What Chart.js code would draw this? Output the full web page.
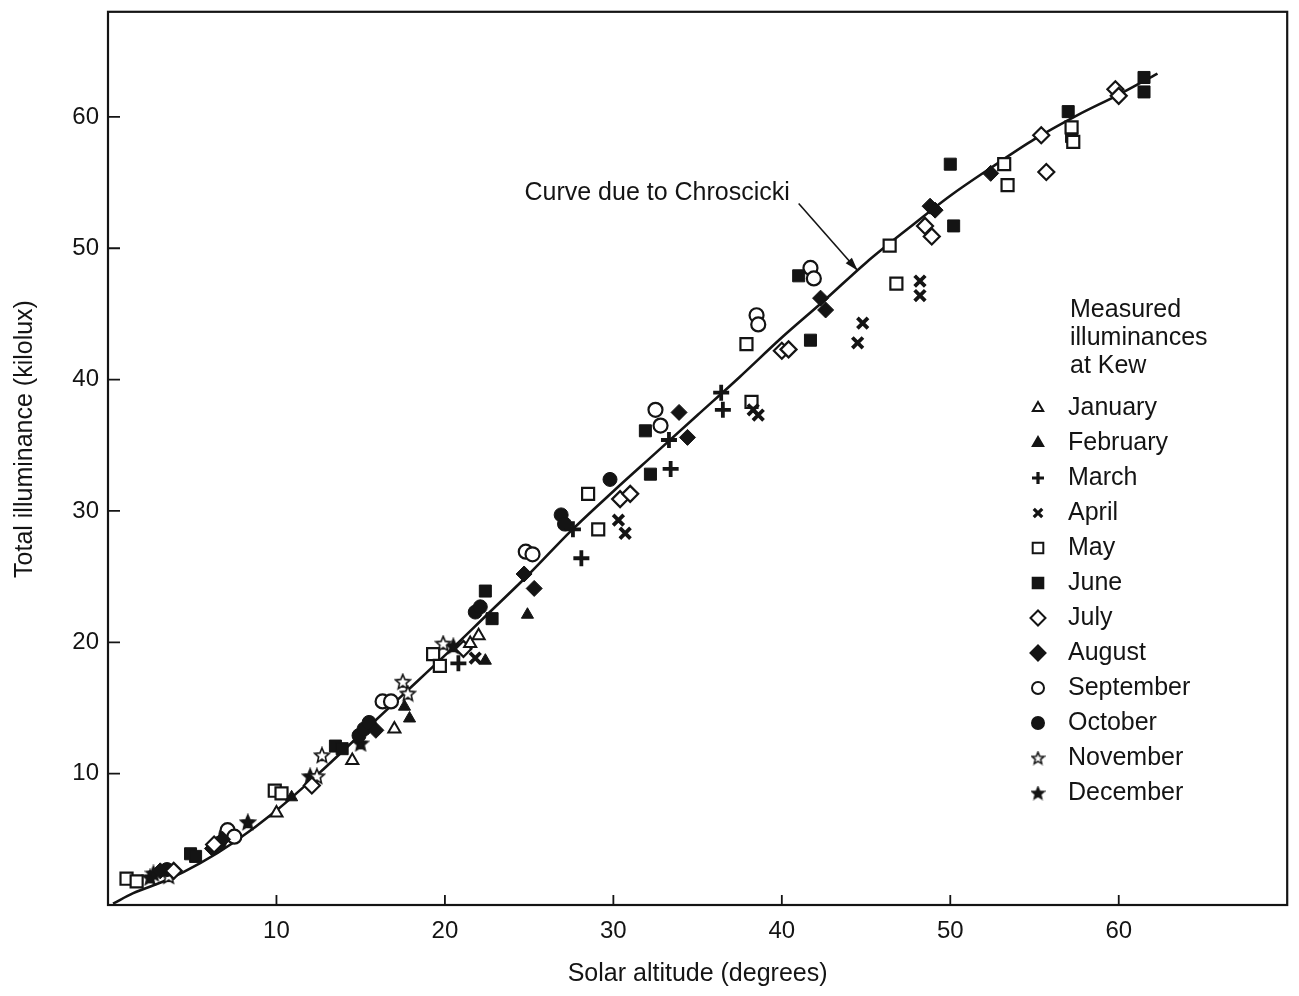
<!DOCTYPE html>
<html>
<head>
<meta charset="utf-8">
<script src="https://cdn.jsdelivr.net/npm/chart.js@4.4.0/dist/chart.umd.min.js"></script>
<style>
  html, body { margin: 0; padding: 0; background: #fff; }
  #wrap { width: 1299px; height: 996px; }
</style>
</head>
<body>
<div id="wrap"><canvas id="chart" width="1299" height="996"></canvas></div>
<script>
// measured illuminances at Kew: [solar altitude (deg), total illuminance (klx)]
const january = [[10.0, 7.0], [14.5, 11.0], [17.0, 13.4], [21.5, 19.9], [22.0, 20.5]];
const february = [[10.9, 8.2], [17.6, 15.1], [17.9, 14.2], [22.4, 18.6], [24.9, 22.1]];
const march = [[20.8, 18.4], [27.6, 28.6], [28.1, 26.4], [33.3, 35.4], [33.4, 33.2], [36.4, 39.0], [36.5, 37.7]];
const april = [[21.8, 18.8], [30.3, 29.3], [30.7, 28.3], [38.3, 37.7], [38.6, 37.3], [44.5, 42.8], [44.8, 44.3], [48.2, 47.5], [48.2, 46.4]];
const may = [[1.1, 2.0], [1.7, 1.8], [9.9, 8.7], [10.3, 8.5], [19.3, 19.1], [19.7, 18.2], [28.5, 31.3], [29.1, 28.6],
  [37.9, 42.7], [38.2, 38.3], [46.4, 50.2], [46.8, 47.3], [53.2, 56.4], [53.4, 54.8], [57.2, 59.2], [57.3, 58.1]];
const june = [[4.9, 3.9], [5.2, 3.7], [13.5, 12.1], [13.9, 11.9], [22.4, 23.9], [22.8, 21.8], [31.9, 36.1], [32.2, 32.8],
  [41.0, 47.9], [41.7, 43.0], [50.0, 56.4], [50.2, 51.7], [57.0, 60.4], [57.2, 58.5], [61.5, 63.0], [61.5, 61.9]];
const july = [[3.9, 2.6], [6.3, 4.6], [12.1, 9.1], [21.1, 19.5], [30.4, 30.9], [31.0, 31.3], [40.0, 42.2], [40.4, 42.3],
  [48.5, 51.7], [48.9, 50.9], [55.4, 58.6], [55.7, 55.8], [59.8, 62.1], [60.0, 61.6]];
const august = [[3.1, 2.6], [6.2, 4.3], [6.8, 5.0], [15.9, 13.3], [24.7, 25.2], [25.3, 24.1], [33.9, 37.5], [34.4, 35.6],
  [42.3, 46.2], [42.6, 45.3], [48.8, 53.2], [49.1, 52.9], [52.4, 55.7]];
const september = [[7.1, 5.7], [7.5, 5.2], [16.3, 15.5], [16.8, 15.5], [24.8, 26.9], [25.2, 26.7], [32.5, 37.7], [32.8, 36.5],
  [38.5, 44.9], [38.6, 44.2], [41.7, 48.5], [41.9, 47.7]];
const october = [[3.5, 2.7], [6.6, 4.7], [7.0, 5.4], [14.9, 12.9], [15.2, 13.4], [15.5, 13.9], [21.8, 22.3], [22.1, 22.7],
  [26.9, 29.7], [27.1, 29.0], [29.8, 32.4]];
const november = [[3.6, 2.2], [12.4, 9.8], [12.7, 11.4], [17.5, 17.0], [17.8, 16.1], [19.9, 19.9]];
const december = [[2.5, 2.1], [2.7, 2.4], [8.3, 6.3], [12.0, 9.8], [15.0, 12.3], [20.5, 19.7]];

// curve due to Chroscicki
const curveAlt = [0.3, 1.5, 3.5, 5.5, 7.5, 10, 12.5, 15, 17.5, 20, 22.5, 25, 27.5, 30, 32.5, 35, 37.5, 40, 42.5, 45, 47.5, 50, 52.5, 55, 57.5, 60, 62.3];
const curveLux = [0.1, 0.9, 1.9, 3.2, 4.8, 7.2, 10.0, 13.0, 16.0, 19.0, 22.1, 25.2, 28.5, 31.5, 34.4, 37.3, 40.2, 43.2, 46.0, 48.9, 51.5, 54.0, 56.2, 58.3, 60.1, 61.7, 63.3];

const xTicks = [10, 20, 30, 40, 50, 60];
const yTicks = [10, 20, 30, 40, 50, 60];

const INK = '#141414';
const FONT = '"Liberation Sans", Arial, Helvetica, sans-serif';

function starImage(size, filled) {
  const c = document.createElement('canvas');
  c.width = c.height = size;
  const g = c.getContext('2d');
  const cx = size / 2, cy = size / 2 + 0.5;
  const ro = size / 2 - 1.2, ri = ro * 0.45;
  g.beginPath();
  for (let i = 0; i < 10; i++) {
    const r = i % 2 ? ri : ro;
    const a = -Math.PI / 2 + i * Math.PI / 5;
    g.lineTo(cx + r * Math.cos(a), cy + r * Math.sin(a));
  }
  g.closePath();
  g.fillStyle = filled ? INK : '#fff';
  g.fill();
  g.lineWidth = 1.6;
  g.strokeStyle = INK;
  g.stroke();
  return c;
}

const openStar = starImage(18, false);
const fullStar = starImage(18, true);
const openStarSmall = starImage(15, false);
const fullStarSmall = starImage(15, true);

// [label, data, pointStyle, radius, filled, borderWidth, legend style]
const months = [
  ['January', january, 'triangle', 7, false, 2, 'triangle'],
  ['February', february, 'triangle', 7, true, 1, 'triangle'],
  ['March', march, 'cross', 8, true, 3.8, 'cross'],
  ['April', april, 'crossRot', 7.5, true, 3.8, 'crossRot'],
  ['May', may, 'rect', 8.5, false, 2.2, 'rect'],
  ['June', june, 'rect', 8.5, true, 1, 'rect'],
  ['July', july, 'rectRot', 8, false, 2.2, 'rectRot'],
  ['August', august, 'rectRot', 8, true, 1, 'rectRot'],
  ['September', september, 'circle', 7, false, 2.2, 'circle'],
  ['October', october, 'circle', 7, true, 1, 'circle'],
  ['November', november, openStar, 8, false, 0, openStarSmall],
  ['December', december, fullStar, 8, true, 0, fullStarSmall]
];

const datasets = months.map(m => ({
  label: m[0],
  data: m[1].map(p => ({x: p[0], y: p[1]})),
  pointStyle: m[2],
  pointRadius: m[3],
  pointBackgroundColor: m[4] ? INK : '#fff',
  pointBorderColor: INK,
  pointBorderWidth: m[5],
  showLine: false
}));

datasets.push({
  label: 'Chroscicki',
  data: curveAlt.map((a, i) => ({x: a, y: curveLux[i]})),
  showLine: true,
  borderColor: INK,
  borderWidth: 2.6,
  pointRadius: 0,
  cubicInterpolationMode: 'monotone'
});

const framePlugin = {
  id: 'frame',
  beforeDatasetsDraw(chart) {
    const {ctx, chartArea: a, scales: {x, y}} = chart;
    ctx.save();
    ctx.strokeStyle = INK;
    ctx.lineWidth = 2.2;
    ctx.strokeRect(a.left, a.top, a.right - a.left, a.bottom - a.top);
    ctx.lineWidth = 1.8;
    ctx.beginPath();
    xTicks.forEach(v => {
      const px = x.getPixelForValue(v);
      ctx.moveTo(px, a.bottom);
      ctx.lineTo(px, a.bottom - 10);
    });
    yTicks.forEach(v => {
      const py = y.getPixelForValue(v);
      ctx.moveTo(a.left, py);
      ctx.lineTo(a.left + 12, py);
    });
    ctx.stroke();

    // y axis title
    ctx.fillStyle = INK;
    ctx.font = '25px ' + FONT;
    ctx.textAlign = 'center';
    ctx.textBaseline = 'middle';
    ctx.translate(25, 439);
    ctx.rotate(-Math.PI / 2);
    ctx.fillText('Total illuminance (kilolux)', 0, 0);
    ctx.restore();
  }
};

const notesPlugin = {
  id: 'notes',
  afterDraw(chart) {
    const {ctx, scales: {x, y}} = chart;
    ctx.save();
    ctx.fillStyle = INK;
    ctx.strokeStyle = INK;

    // curve label and arrow
    ctx.font = '25px ' + FONT;
    ctx.textAlign = 'center';
    ctx.textBaseline = 'middle';
    ctx.fillText('Curve due to Chroscicki', x.getPixelForValue(32.6), y.getPixelForValue(54.2));
    const x0 = x.getPixelForValue(41.0), y0 = y.getPixelForValue(53.4);
    const x1 = x.getPixelForValue(44.5), y1 = y.getPixelForValue(48.3);
    ctx.lineWidth = 1.6;
    ctx.beginPath();
    ctx.moveTo(x0, y0);
    ctx.lineTo(x1, y1);
    ctx.stroke();
    const ang = Math.atan2(y1 - y0, x1 - x0);
    ctx.beginPath();
    ctx.moveTo(x1, y1);
    ctx.lineTo(x1 - 14 * Math.cos(ang - 0.3), y1 - 14 * Math.sin(ang - 0.3));
    ctx.lineTo(x1 - 14 * Math.cos(ang + 0.3), y1 - 14 * Math.sin(ang + 0.3));
    ctx.closePath();
    ctx.fill();

    // legend
    ctx.font = '25px ' + FONT;
    ctx.textAlign = 'left';
    ['Measured', 'illuminances', 'at Kew'].forEach((t, i) => ctx.fillText(t, 1070, 310 + i * 28));
    months.forEach((m, i) => {
      const ly = 408 + i * 35;
      ctx.fillStyle = INK;
      ctx.fillText(m[0], 1068, ly);
      const style = m[6];
      if (typeof style !== 'string') {
        ctx.drawImage(style, 1038 - style.width / 2, ly - style.height / 2);
      } else {
        ctx.fillStyle = m[4] ? INK : '#fff';
        ctx.strokeStyle = INK;
        ctx.lineWidth = m[5] > 3 ? 3.2 : 2;
        const r = (style === 'rect' || style === 'rectRot') ? 7.5 : 6;
        Chart.helpers.drawPoint(ctx, {pointStyle: style, radius: r, rotation: 0, borderWidth: ctx.lineWidth}, 1038, ly);
      }
    });
    ctx.restore();
  }
};

new Chart(document.getElementById('chart'), {
  type: 'scatter',
  data: {datasets},
  options: {
    responsive: false,
    animation: false,
    layout: {padding: {left: 0, right: 9, top: 8, bottom: 0}},
    plugins: {legend: {display: false}, tooltip: {enabled: false}},
    scales: {
      x: {
        type: 'linear',
        min: 0,
        max: 70,
        afterFit: s => { s.height = 91; s.paddingLeft = 0; s.paddingRight = 0; },
        afterBuildTicks: s => { s.ticks = xTicks.map(v => ({value: v})); },
        grid: {display: false, drawTicks: false},
        border: {display: false},
        ticks: {color: INK, padding: 12, font: {family: FONT, size: 24}},
        title: {display: true, text: 'Solar altitude (degrees)', color: INK,
          font: {family: FONT, size: 25}, padding: {top: 0, bottom: 7}}
      },
      y: {
        type: 'linear',
        min: 0,
        max: 68,
        afterFit: s => { s.width = 108; s.paddingTop = 0; s.paddingBottom = 0; },
        afterBuildTicks: s => { s.ticks = yTicks.map(v => ({value: v})); },
        grid: {display: false, drawTicks: false},
        border: {display: false},
        ticks: {color: INK, padding: 9, font: {family: FONT, size: 24}},
        title: {display: false}
      }
    }
  },
  plugins: [framePlugin, notesPlugin]
});
</script>
</body>
</html>
